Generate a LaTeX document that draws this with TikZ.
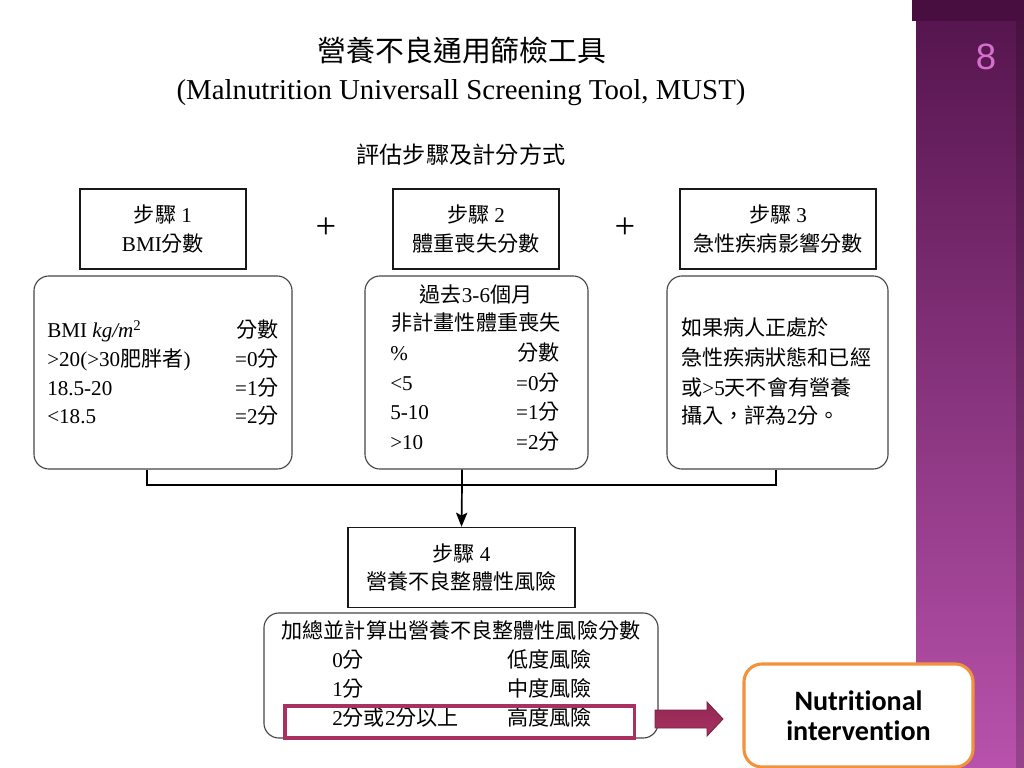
\documentclass[tikz,border=0pt]{standalone}
\usepackage{fontspec}
\setmainfont{Liberation Serif}
\newfontfamily\cjk{Noto Sans CJK TC}
\newfontfamily\carefont[Ligatures=NoCommon]{Carlito}
\newfontfamily\numfont{Liberation Sans}
\usetikzlibrary{arrows.meta,positioning}
\newcommand{\zw}[1]{{\cjk #1}}

\definecolor{plumtop}{RGB}{84,20,76}
\definecolor{plumbot}{RGB}{184,82,172}
\definecolor{plumtab}{RGB}{72,14,64}
\definecolor{pagenum}{RGB}{214,112,206}
\definecolor{riskred}{RGB}{170,48,98}
\definecolor{careorange}{RGB}{242,146,60}
\definecolor{boxgray}{RGB}{70,70,70}

\tikzset{
  stepbox/.style={draw=black!90, line width=1pt, minimum height=2cm, align=center, inner sep=0pt},
  roundbox/.style={draw=boxgray, line width=0.8pt, rounded corners=0.375cm, minimum height=4.825cm},
  rowl/.style={anchor=west, inner sep=0pt, text height=11pt, text depth=3pt},
  rowr/.style={anchor=east, inner sep=0pt, text height=11pt, text depth=3pt},
  link/.style={draw=black, line width=1.2pt},
}

\begin{document}
\begin{tikzpicture}[x=0.025cm, y=-0.025cm, font=\fontsize{15}{20}\selectfont]
  \useasboundingbox (0,0) rectangle (1024,768);
  % slide
  \fill[white] (0,0) rectangle (1024,768);
  \shade[top color=plumtop, bottom color=plumbot] (916,0) rectangle (1024,768);
  \fill[black, opacity=0.18] (1016,0) rectangle (1024,768);
  \fill[plumtab] (912,0) rectangle (1024,21);
  \node[text=pagenum, font=\numfont\fontsize{26}{26}\selectfont] (pagenr) at (986,57) {8};

  % titles
  \node[font=\cjk\fontsize{20.5}{24}\selectfont] (title) at (462,50) {營養不良通用篩檢工具};
  \node[font=\fontsize{20.5}{24}\selectfont] (titleen) at (461,93) {(Malnutrition Universall Screening Tool, MUST)};
  \node[font=\cjk\fontsize{16.5}{20}\selectfont] (subtitle) at (461,155) {評估步驟及計分方式};

  % steps 1-3
  \node[stepbox, minimum width=4.15cm] (s1) at (163,229) {\zw{步驟} 1\\BMI\zw{分數}};
  \node[stepbox, minimum width=4.15cm] (s2) at (476,229) {\zw{步驟} 2\\\zw{體重喪失分數}};
  \node[stepbox, minimum width=4.9cm] (s3) at (778,229) {\zw{步驟} 3\\\zw{急性疾病影響分數}};
  \node[font=\fontsize{26}{26}\selectfont] (plus1) at (326,228) {+};
  \node[font=\fontsize{26}{26}\selectfont] (plus2) at (625,228) {+};

  \node[roundbox, minimum width=6.45cm] (r1) at (163,372.5) {};
  \node[roundbox, minimum width=5.575cm] (r2) at (476.5,372.5) {};
  \node[roundbox, minimum width=5.525cm] (r3) at (777.5,372.5) {};

  % BMI
  \node[rowl] (bmihead) at (47,332) {BMI \textit{kg/m}\textsuperscript{2}};
  \node[rowr] (bmiscore) at (279,332) {\zw{分數}};
  \node[rowl] (bmia) at (47,361) {>20(>30\zw{肥胖者})};
  \node[rowr] (bmia') at (279,361) {=0\zw{分}};
  \node[rowl] (bmib) at (47,390) {18.5-20};
  \node[rowr] (bmib') at (279,390) {=1\zw{分}};
  \node[rowl] (bmic) at (47,418) {<18.5};
  \node[rowr] (bmic') at (279,418) {=2\zw{分}};

  % weight loss
  \node[inner sep=0pt, text height=11pt, text depth=3pt] (losshead) at (476,297) {\zw{過去}3-6\zw{個月}};
  \node[inner sep=0pt, text height=11pt, text depth=3pt] (losssub) at (476,325) {\zw{非計畫性體重喪失}};
  \node[rowl] (lossp) at (390,355) {\%};
  \node[rowr] (lossscore) at (560,355) {\zw{分數}};
  \node[rowl] (lossa) at (390,385) {<5};
  \node[rowr] (lossa') at (560,385) {=0\zw{分}};
  \node[rowl] (lossb) at (390,414) {5-10};
  \node[rowr] (lossb') at (560,414) {=1\zw{分}};
  \node[rowl] (lossc) at (390,444) {>10};
  \node[rowr] (lossc') at (560,444) {=2\zw{分}};

  % acute disease
  \node[rowl] (acutea) at (681,330) {\zw{如果病人正處於}};
  \node[rowl] (acuteb) at (681,360) {\zw{急性疾病狀態和已經}};
  \node[rowl] (acutec) at (681,390) {\zw{或}>5\zw{天不會有營養}};
  \node[rowl] (acuted) at (681,418) {\zw{攝入，評為}2\zw{分。}};

  % step 4
  \node[stepbox, minimum width=5.675cm] (s4) at (461.5,567.5) {\zw{步驟} 4\\\zw{營養不良整體性風險}};
  \node[roundbox, minimum width=9.85cm, minimum height=3.125cm] (r4) at (461,675.5) {};
  \node[inner sep=0pt, text height=11pt, text depth=3pt] (sumhead) at (461,633) {\zw{加總並計算出營養不良整體性風險分數}};
  \node[rowl] (risk0) at (332,662) {0\zw{分}};
  \node[rowl] (risk0') at (507,662) {\zw{低度風險}};
  \node[rowl] (risk1) at (332,691) {1\zw{分}};
  \node[rowl] (risk1') at (507,691) {\zw{中度風險}};
  \node[rowl] (risk2) at (332,720) {2\zw{分或}2\zw{分以上}};
  \node[rowl] (risk2') at (507,720) {\zw{高度風險}};
  \node[draw=riskred, line width=2.2pt, minimum width=8.725cm, minimum height=0.8cm] (high) at (459.5,722) {};

  % connectors
  \coordinate (hub) at (462,485);
  \coordinate (hubL) at (147,485);
  \coordinate (hubR) at (776,485);
  \draw[link] (r1.south -| hubL) -- (hubL) -- (hubR) -- (r3.south -| hubR);
  \draw[link, -{Stealth[length=10pt, width=8pt, inset=2pt]}] (r2.south -| hub) -- (hub) -- (s4.north);

  % intervention
  \shade[top color=riskred!85!black, bottom color=riskred, draw=riskred!70!black, line width=0.6pt]
    (655,710) -- (707,710) -- (707,702) -- (723,719) -- (707,736) -- (707,728) -- (655,728) -- cycle;
  \node[draw=careorange, fill=white, line width=2.2pt, rounded corners=0.45cm,
        minimum width=5.725cm, minimum height=2.575cm, align=center,
        font=\carefont\bfseries\fontsize{20}{21.5}\selectfont] (care) at (858.5,715.5) {Nutritional\\intervention};
\end{tikzpicture}
\end{document}
